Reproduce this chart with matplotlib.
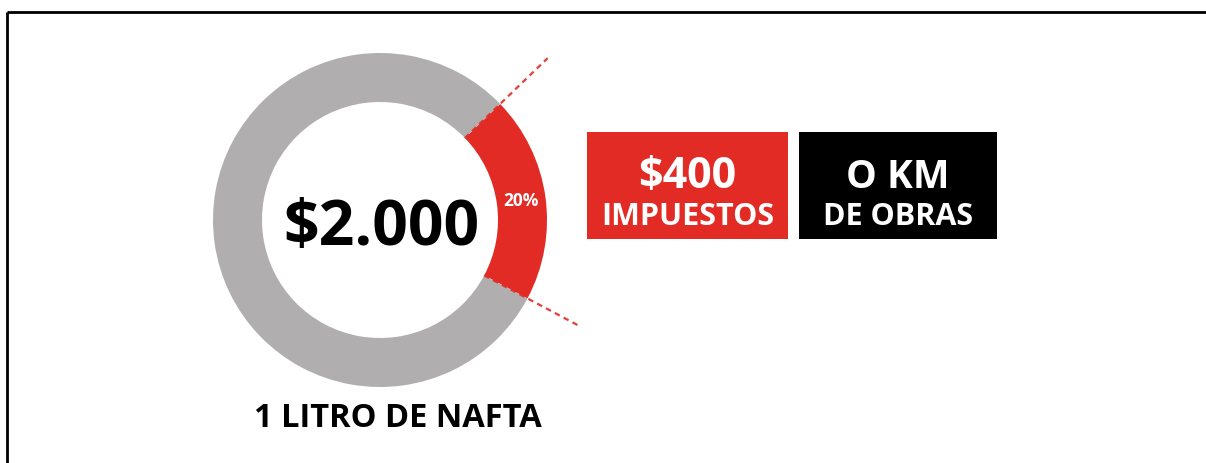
import numpy as np
import matplotlib.pyplot as plt

PRICE_LABEL = "$2.000"
SHARE_LABELS = ["impuestos", "resto"]
SHARES = [20, 80]
SHARE_TEXT = "20%"
BOX_TOP = ["$400", "O KM"]
BOX_BOTTOM = ["IMPUESTOS", "DE OBRAS"]
CAPTION = "1 LITRO DE NAFTA"

RED = "#e22b25"
GRAY = "#b0aeae"
FONT = ["Open Sans", "DejaVu Sans"]

W, H = 1206, 464
fig = plt.figure(figsize=(W / 100, H / 100), dpi=100)
ax = fig.add_axes([0, 0, 1, 1])

# donut
cx, cy, R, ring = 380, 243, 167, 49
wedges, _ = ax.pie(SHARES, colors=[RED, GRAY], startangle=-28, counterclock=True,
                   center=(cx, cy), radius=R,
                   wedgeprops=dict(width=ring, linewidth=0))
ax.set_xlim(0, W)
ax.set_ylim(0, H)
ax.set_aspect("equal")
ax.axis("off")

# dashed guide lines at the edges of the red slice
red = wedges[0]
for ang, r_end in [(red.theta1, 225), (red.theta2, 233)]:
    t = np.deg2rad(ang)
    ax.plot([cx + (R - ring) * np.cos(t), cx + r_end * np.cos(t)],
            [cy + (R - ring) * np.sin(t), cy + r_end * np.sin(t)],
            color=RED, lw=1.6, ls=(0, (2.5, 2)), alpha=0.9)

mid = np.deg2rad((red.theta1 + red.theta2) / 2)
ax.text(cx + (R - ring / 2) * np.cos(mid), cy + (R - ring / 2) * np.sin(mid), SHARE_TEXT,
        color="white", fontsize=12.5, fontweight="bold", family=FONT,
        ha="center", va="center")

ax.text(381, 219, PRICE_LABEL, fontsize=45, fontweight="bold", family=FONT,
        ha="center", va="baseline", color="black")

# boxes
boxes = [(587, 788, RED), (799, 997, "black")]
top_sizes = [31, 28]
for (x0, x1, c), top, bottom, fs in zip(boxes, BOX_TOP, BOX_BOTTOM, top_sizes):
    ax.add_patch(plt.Rectangle((x0, 224), x1 - x0, 107, color=c, lw=0))
    xm = (x0 + x1) / 2
    ax.text(xm, 276, top, fontsize=fs, fontweight="bold", family=FONT,
            ha="center", va="baseline", color="white")
    ax.text(xm, 239, bottom, fontsize=22, fontweight="bold", family=FONT,
            ha="center", va="baseline", color="white")

ax.text(398, 37, CAPTION, fontsize=23.5, fontweight="bold", family=FONT,
        ha="center", va="baseline", color="black")

# frame lines (top and left only)
ax.plot([7, W], [451, 451], color="black", lw=2, clip_on=False, solid_capstyle="butt")
ax.plot([7, 7], [0, 451], color="black", lw=2, clip_on=False, solid_capstyle="butt")

fig.savefig("out.png", dpi=100)
